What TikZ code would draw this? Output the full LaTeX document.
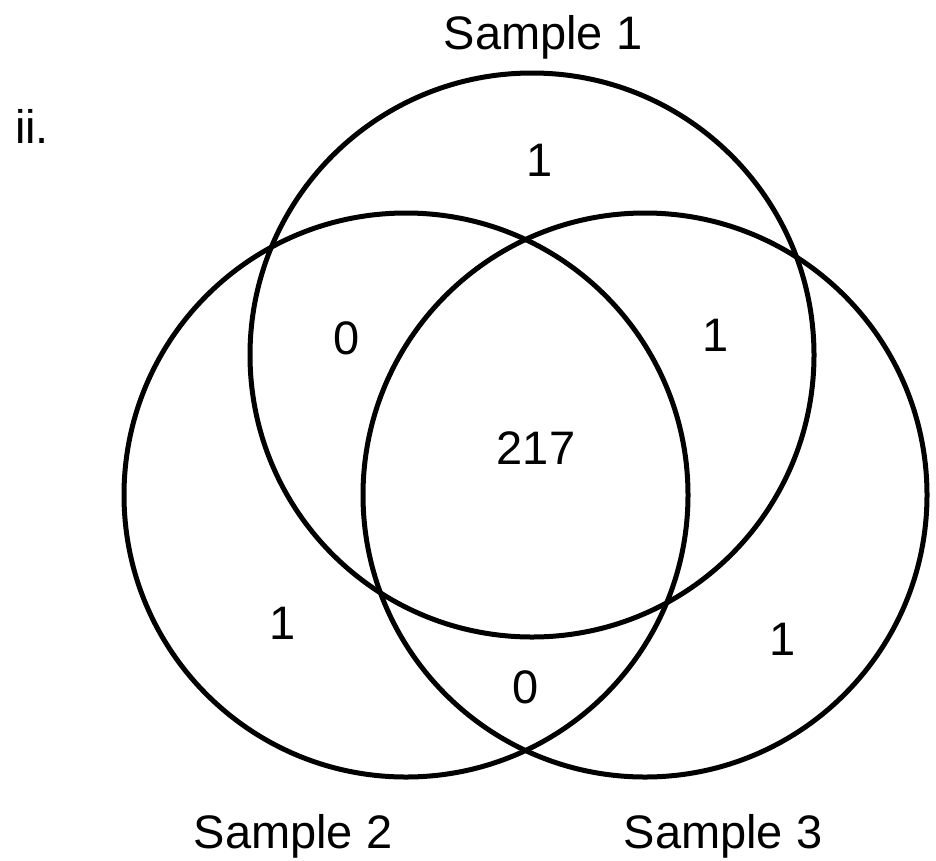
\documentclass[tikz,border=0pt]{standalone}
\usepackage{fontspec}
\setmainfont{Liberation Sans}
\usepackage{tikz}
\usetikzlibrary{positioning}

\begin{document}
\begin{tikzpicture}[
  x=1pt, y=-1pt,
  font=\fontsize{47}{50}\selectfont,
  ring/.style={draw=black, line width=5pt},
  count/.style={inner sep=0pt, anchor=center},
  title/.style={inner sep=0pt, anchor=base}
]
\useasboundingbox (0,0) rectangle (936,860);

\coordinate (c1) at (532,355);
\coordinate (c2) at (406,495);
\coordinate (c3) at (645,495);

\draw[ring] (c1) circle[radius=282];
\draw[ring] (c2) circle[radius=282];
\draw[ring] (c3) circle[radius=282];

\node[title] (s1) at (543,49) {Sample 1};
\node[title] (s2) at (293,848) {Sample 2};
\node[title] (s3) at (723,848) {Sample 3};
\node[title] (tag) at (32,143) {ii.};

\node[count] (only1) at (540,160) {1};
\node[count] (n12) at (347,338) {0};
\node[count] (n13) at (716,335) {1};
\node[count] (all) at (536,448) {217};
\node[count] (only2) at (283,623) {1};
\node[count] (only3) at (783,639) {1};
\node[count] (n23) at (526,687) {0};
\end{tikzpicture}
\end{document}
